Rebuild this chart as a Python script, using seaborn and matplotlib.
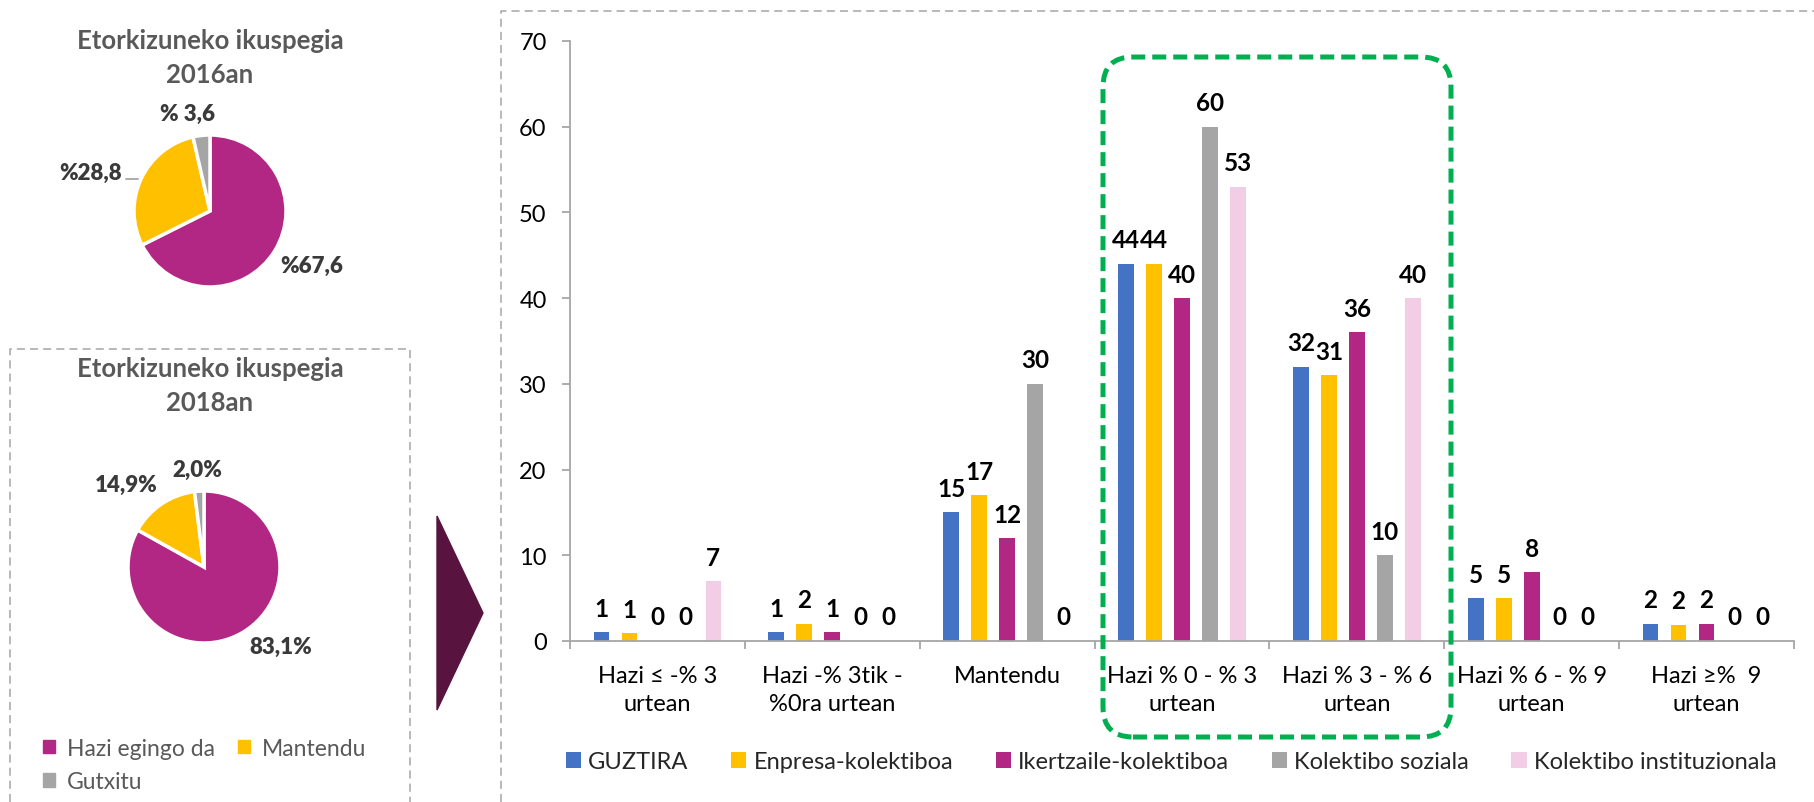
import pandas as pd
import matplotlib.pyplot as plt
import seaborn as sns
from matplotlib.patches import Polygon, FancyBboxPatch, Patch
from matplotlib.lines import Line2D

# data
categories = ['Hazi ≤ -% 3\nurtean', 'Hazi -% 3tik -\n%0ra urtean', 'Mantendu',
              'Hazi % 0 - % 3\nurtean', 'Hazi % 3 - % 6\nurtean',
              'Hazi % 6 - % 9\nurtean', 'Hazi ≥%  9\nurtean']
series = ['GUZTIRA', 'Enpresa-kolektiboa', 'Ikertzaile-kolektiboa',
          'Kolektibo soziala', 'Kolektibo instituzionala']
guztira = [1, 1, 15, 44, 32, 5, 2]
enpresa = [0.9, 2, 17, 44, 31, 5, 1.9]
ikertzaile = [0, 1, 12, 40, 36, 8, 2]
soziala = [0, 0, 30, 60, 10, 0, 0]
instituzionala = [7, 0, 0, 53, 40, 0, 0]
bar_colors = ['#4472C4', '#FFC000', '#B22783', '#A5A5A5', '#F2CEE6']

pie_labels = ['Hazi egingo da', 'Mantendu', 'Gutxitu']
pie_colors = ['#B22783', '#FFC000', '#A5A5A5']
pie_2016 = [67.6, 28.8, 3.6]
pie_2016_txt = ['%67,6', '%28,8', '% 3,6']
pie_2018 = [83.1, 14.9, 2.0]
pie_2018_txt = ['83,1%', '14,9%', '2,0%']

rows = []
for name, vals in zip(series, [guztira, enpresa, ikertzaile, soziala, instituzionala]):
    for c, v in zip(categories, vals):
        rows.append({'cat': c, 'serie': name, 'val': v})
df = pd.DataFrame(rows)

W, H = 1814, 803
sns.set_theme(style='white')
plt.rcParams['font.family'] = ['Lato', 'DejaVu Sans']

fig = plt.figure(figsize=(W / 100, H / 100), dpi=100)


def inch(x, y):
    # pixel (from top-left) -> inches for dpi_scale_trans
    return (x / 100, (H - y) / 100)


#%% bar chart
ax = fig.add_axes([570 / W, (H - 642) / H, 1224 / W, 600 / H])
sns.barplot(data=df, x='cat', y='val', hue='serie', order=categories, hue_order=series,
            palette=bar_colors, saturation=1, width=0.8, gap=0.44, linewidth=0, ax=ax)
for cont in ax.containers:
    ax.bar_label(cont, fmt='%.0f', padding=9, fontsize=17.5, fontweight='bold', color='black')

ax.set_ylim(0, 70)
ax.set_yticks(range(0, 71, 10))
ax.set_xlim(-0.5, len(categories) - 0.5)
ax.set_xlabel('')
ax.set_ylabel('')
sns.despine(ax=ax)
for s in ['left', 'bottom']:
    ax.spines[s].set_color('#A6A6A6')
    ax.spines[s].set_linewidth(1.3)
ax.tick_params(axis='y', length=5.8, width=1.3, color='#A6A6A6', pad=11, labelsize=17,
               left=True, labelcolor='black')
ax.tick_params(axis='x', which='major', length=0, pad=17, labelsize=17, labelcolor='black')
ax.set_xticks([i - 0.5 for i in range(len(categories) + 1)], minor=True)
ax.tick_params(axis='x', which='minor', length=5.8, width=1.3, color='#A6A6A6', bottom=True)
ax.grid(False)

h, l = ax.get_legend_handles_labels()
ax.legend(h, l, ncol=5, loc='center', bbox_to_anchor=(1171 / W, (H - 763) / H),
          bbox_transform=fig.transFigure, frameon=False, fontsize=17,
          handlelength=0.65, handleheight=0.65, handletextpad=0.3, columnspacing=1.8)

#%% pies
def draw_pie(cx, cy, vals, txts, pos, title, ty):
    S = 300
    pa = fig.add_axes([(cx - S / 2) / W, (H - cy - S / 2) / H, S / W, S / H])
    pa.pie(vals, colors=pie_colors, startangle=90, counterclock=False,
           wedgeprops=dict(edgecolor='white', linewidth=2.5))
    lim = S / 2 / 76
    pa.set_xlim(-lim, lim)
    pa.set_ylim(-lim, lim)
    pa.set_aspect('equal')
    pa.axis('off')
    for t, (px, py) in zip(txts, pos):
        pa.text(px, py, t, ha='center', va='center', fontsize=16, fontweight='heavy',
                color='#3A3A3A')
    fig.text(210 / W, (H - ty) / H, title, ha='center', va='center', fontsize=18.5,
             fontweight='bold', color='#595959', linespacing=1.5)
    return pa


pa1 = draw_pie(210, 212, pie_2016, pie_2016_txt,
               [(1.34, -0.71), (-1.57, 0.51), (-0.29, 1.29)],
               'Etorkizuneko ikuspegia\n2016an', 58)
pa1.plot([-1.11, -0.95], [0.42, 0.42], color='#A6A6A6', lw=1.3)
pa2 = draw_pie(204, 568, pie_2018, pie_2018_txt,
               [(1.01, -1.05), (-1.03, 1.09), (-0.09, 1.28)],
               'Etorkizuneko ikuspegia\n2018an', 386)

handles = [Patch(color=c) for c in pie_colors]
order = [0, 2, 1]
fig.legend([handles[i] for i in order], [pie_labels[i] for i in order], ncol=2,
           loc='upper left', bbox_to_anchor=(22 / W, (H - 718) / H), frameon=False,
           fontsize=16.5, labelcolor='#595959', handlelength=0.55, handleheight=0.55,
           handletextpad=0.5, columnspacing=1.0, labelspacing=0.55)

#%% decorations
tri = Polygon([inch(437, 517), inch(483, 614), inch(437, 711)], closed=True,
              color='#58133F', transform=fig.dpi_scale_trans)
fig.add_artist(tri)

gray_ls = (0, (5.3, 3.3))
for xs, ys in [([10, 10, 410, 410], [803, 350, 350, 803]),
               ([501, 501, 1814], [803, 12, 12])]:
    pts = [inch(x, y) for x, y in zip(xs, ys)]
    fig.add_artist(Line2D([p[0] for p in pts], [p[1] for p in pts], color='#A6A6A6',
                          lw=1.1, linestyle=gray_ls, transform=fig.dpi_scale_trans))

x0, y0 = inch(1103, 738)
box = FancyBboxPatch((x0, y0), 3.48, 6.80, boxstyle='round,pad=0,rounding_size=0.3',
                     fill=False, ec='#00B050', lw=3.6, linestyle=(0, (2.8, 1.4)),
                     transform=fig.dpi_scale_trans, zorder=10)
fig.add_artist(box)

# two-line category labels need a bit more line gap
fig.canvas.draw()
for t in ax.xaxis.get_majorticklabels():
    t.set_linespacing(1.45)

plt.savefig('out.png', dpi=100)
